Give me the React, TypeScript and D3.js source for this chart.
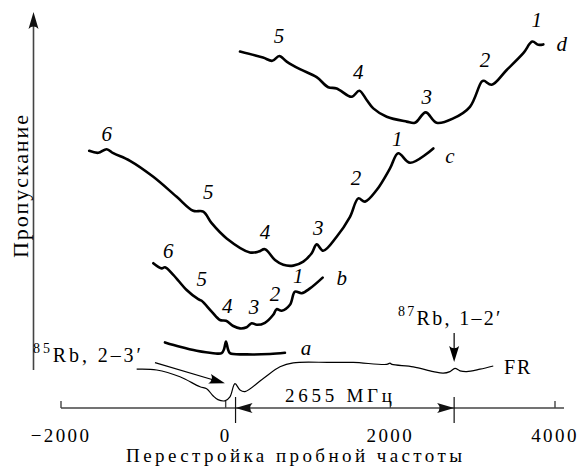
import React, { useRef, useEffect } from "react";
import * as d3 from "d3";

type Pt = [number, number];
type Label = [string, number, number];

// probe detuning (MHz) vs transmission (arb. units)
const curveD: Pt[] = [
  [174, 89.6], [453, 88.1], [566, 87.3], [651, 88.5], [741, 87.1], [902, 85.2],
  [1105, 83.2], [1246, 80.7], [1348, 80.4], [1530, 78.3], [1623, 79.8], [1713, 77.5],
  [1793, 75.4], [1956, 73.3], [2198, 72.1], [2299, 71.8], [2429, 74.4], [2563, 71.8],
  [2764, 72.9], [2967, 75.8], [3109, 82.1], [3137, 82.3], [3231, 81.3], [3413, 85],
  [3615, 89.2], [3724, 92.1], [3797, 91.3], [3858, 91.4]
];
const curveC: Pt[] = [
  [-1657, 64.8], [-1547, 64.3], [-1445, 65.2], [-1365, 64.2], [-1162, 62.3], [-879, 58.3],
  [-595, 53.3], [-394, 49.8], [-272, 49.6], [-170, 46.7], [12, 42.9], [295, 39.4],
  [400, 39.6], [477, 40.2], [599, 37.5], [700, 36.3], [821, 36.1], [943, 37.1],
  [1045, 39.2], [1105, 41.4], [1185, 39.8], [1348, 43.3], [1510, 48.3], [1611, 52.9],
  [1692, 52.1], [1834, 55], [1996, 60.4], [2096, 64.2], [2239, 61.8], [2522, 65.4]
];
const curveB: Pt[] = [
  [-879, 36.7], [-777, 35.4], [-737, 35.7], [-636, 33.8], [-474, 30], [-333, 27.7],
  [-292, 27.3], [-170, 24.6], [-69, 22.5], [4, 22.3], [92, 21], [174, 20.4],
  [255, 20.7], [316, 21.7], [377, 21.3], [477, 21.8], [578, 23.8], [619, 25.2],
  [680, 24.8], [781, 26.3], [842, 29.6], [923, 29.2], [1024, 30.4], [1178, 33.1]
];
const curveA: Pt[] = [
  [-737, 16.9], [-555, 15.8], [-352, 14.8], [-151, 14.2], [-49, 14.2], [-20, 15.2],
  [4, 17.1], [28, 15.2], [52, 14.2], [255, 13.9], [538, 14], [720, 14.3]
];
const curveFR: Pt[] = [
  [-1081, 10.2], [-838, 10], [-555, 8.3], [-312, 5.8], [-231, 5.3], [-151, 3.5],
  [-94, 2.6], [-9, 2.3], [52, 3.3], [113, 6.6], [174, 5], [234, 4.6],
  [457, 7.9], [660, 10.8], [821, 11.8], [1267, 11.9], [1550, 11.9], [1956, 11.4],
  [1996, 11.7], [2020, 11.4], [2279, 10.8], [2522, 9.6], [2643, 9.2], [2724, 9.6],
  [2785, 10.4], [2846, 9.8], [2927, 9.6], [3089, 10.2], [3250, 11]
];

// peak numbers and curve names: text, detuning, level
const labelsD: Label[] = [["5", 647, 91.8], ["4", 1611, 82.8], ["3", 2441, 76.5], ["2", 3149, 85.8], ["1", 3777, 95.8], ["d", 4081, 89.8]];
const labelsC: Label[] = [["6", -1445, 67.3], ["5", -211, 52.8], ["4", 477, 42.8], ["3", 1125, 43.8], ["2", 1583, 56.3], ["1", 2084, 66], ["c", 2724, 61.8]];
const labelsB: Label[] = [["6", -697, 38], ["5", -292, 31], ["4", 19, 24.3], ["3", 344, 24], ["2", 599, 27.3], ["1", 882, 31.7], ["b", 1409, 31.3]];
const labelsA: Label[] = [["a", 975, 13.8]];

const xTicks = [-2000, 0, 2000, 4000];
const xTickLabels = ["\u22122000", "0", "2000", "4000"];
const lines = [120, 2775]; // 85Rb 2-3' and 87Rb 1-2' positions
const gapLabel = "2655 МГц";
const xTitle = "Перестройка пробной частоты";
const yTitle = "Пропускание";
const frLabel = "FR";

const W = 579;
const H = 471;
const FONT = "Liberation Serif, DejaVu Serif, Times New Roman, serif";

export default function App() {
  const svgRef = useRef<SVGSVGElement>(null);

  useEffect(() => {
    if (!svgRef.current) return;
    const svg = d3.select(svgRef.current);
    svg.selectAll("*").remove();

    const x = d3.scaleLinear().domain([-2000, 4000]).range([61, 555]);
    const y = d3.scaleLinear().domain([0, 100]).range([410, 10]);
    const axisY = 408;
    const yAxisX = 33.5;

    const line = d3.line<Pt>()
      .x(d => x(d[0]))
      .y(d => y(d[1]))
      .curve(d3.curveCatmullRom.alpha(0.5));

    // arrow head, tip at (tx,ty), pointing along ang
    const head = (tx: number, ty: number, ang: number, len = 15, w = 4.8) => {
      const c = Math.cos(ang), s = Math.sin(ang);
      const bx = tx - c * len, by = ty - s * len;
      const p1 = [bx - s * w, by + c * w];
      const p2 = [bx + s * w, by - c * w];
      const m = [tx - c * len * 0.72, ty - s * len * 0.72];
      return `M${tx},${ty}L${p1[0]},${p1[1]}Q${m[0]},${m[1]} ${p2[0]},${p2[1]}Z`;
    };

    // y axis
    svg.append("line")
      .attr("x1", yAxisX).attr("x2", yAxisX)
      .attr("y1", 370).attr("y2", 24)
      .attr("stroke", "#444").attr("stroke-width", 1.6);
    svg.append("path").attr("d", head(yAxisX, 12, -Math.PI / 2, 17, 5)).attr("fill", "#111");

    svg.append("text")
      .attr("transform", `translate(28,186.5) rotate(-90)`)
      .attr("text-anchor", "middle")
      .style("font-family", FONT)
      .attr("font-size", 22)
      .attr("textLength", 143)
      .attr("lengthAdjust", "spacing")
      .text(yTitle);

    // x axis
    svg.append("line")
      .attr("x1", 61).attr("x2", 564)
      .attr("y1", axisY).attr("y2", axisY)
      .attr("stroke", "#444").attr("stroke-width", 1.6);

    svg.selectAll(".tick")
      .data(xTicks)
      .enter()
      .append("line")
      .attr("x1", d => x(d)).attr("x2", d => x(d))
      .attr("y1", axisY).attr("y2", axisY - 7)
      .attr("stroke", "#444").attr("stroke-width", 1.4);

    svg.selectAll(".ticklabel")
      .data(xTicks)
      .enter()
      .append("text")
      .attr("x", d => x(d))
      .attr("y", 441.7)
      .attr("text-anchor", "middle")
      .style("font-family", FONT)
      .attr("font-size", 19)
      .attr("letter-spacing", 2.4)
      .text((d, i) => xTickLabels[i]);

    svg.append("text")
      .attr("x", 126).attr("y", 462)
      .style("font-family", FONT)
      .attr("font-size", 19)
      .attr("textLength", 336)
      .attr("lengthAdjust", "spacing")
      .text(xTitle);

    // splitting markers and arrows
    svg.selectAll(".marker")
      .data(lines)
      .enter()
      .append("line")
      .attr("x1", d => x(d)).attr("x2", d => x(d))
      .attr("y1", 397).attr("y2", 423)
      .attr("stroke", "#111").attr("stroke-width", 1.2);
    svg.append("path").attr("d", head(x(lines[0]), axisY, Math.PI, 17, 5)).attr("fill", "#111");
    svg.append("path").attr("d", head(x(lines[1]), axisY, 0, 17, 5)).attr("fill", "#111");
    svg.append("text")
      .attr("x", 285).attr("y", 401.7)
      .style("font-family", FONT)
      .attr("font-size", 19)
      .attr("textLength", 107)
      .attr("lengthAdjust", "spacing")
      .text(gapLabel);

    // curves
    [curveA, curveB, curveC, curveD].forEach(c => {
      svg.append("path")
        .attr("d", line(c) || "")
        .attr("fill", "none")
        .attr("stroke", "#000")
        .attr("stroke-width", 2.6)
        .attr("stroke-linejoin", "round")
        .attr("stroke-linecap", "round");
    });
    svg.append("path")
      .attr("d", line(curveFR) || "")
      .attr("fill", "none")
      .attr("stroke", "#000")
      .attr("stroke-width", 1.2);

    // peak labels
    [...labelsA, ...labelsB, ...labelsC, ...labelsD].forEach(([t, f, v]) => {
      svg.append("text")
        .attr("x", x(f)).attr("y", y(v))
        .attr("text-anchor", "middle")
        .style("font-family", FONT)
        .attr("font-style", "italic")
        .attr("font-size", 21)
        .text(t);
    });

    svg.append("text")
      .attr("x", 504).attr("y", 374)
      .style("font-family", FONT)
      .attr("font-size", 20)
      .attr("letter-spacing", 2)
      .text(frLabel);

    // 85Rb annotation
    const rb85 = svg.append("text")
      .attr("x", 33).attr("y", 361.7)
      .style("font-family", FONT)
      .attr("letter-spacing", 2.9);
    rb85.append("tspan").attr("font-size", 14).attr("dy", -9).text("85");
    rb85.append("tspan").attr("font-size", 20).attr("dy", 9).text("Rb, 2–3′");
    const a0 = [155, 362.7], a1 = [x(-9), 383.3];
    const ang85 = Math.atan2(a1[1] - a0[1], a1[0] - a0[0]);
    svg.append("line")
      .attr("x1", a0[0]).attr("y1", a0[1])
      .attr("x2", a1[0] - Math.cos(ang85) * 10).attr("y2", a1[1] - Math.sin(ang85) * 10)
      .attr("stroke", "#000").attr("stroke-width", 1.2);
    svg.append("path").attr("d", head(a1[0], a1[1], ang85, 16, 5)).attr("fill", "#000");

    // 87Rb annotation
    const rb87 = svg.append("text")
      .attr("x", 398).attr("y", 325)
      .style("font-family", FONT)
      .attr("letter-spacing", 2.3);
    rb87.append("tspan").attr("font-size", 14).attr("dy", -9).text("87");
    rb87.append("tspan").attr("font-size", 20).attr("dy", 9).text("Rb, 1–2′");
    const bx = x(lines[1]);
    svg.append("line")
      .attr("x1", bx).attr("x2", bx)
      .attr("y1", 333).attr("y2", 352)
      .attr("stroke", "#000").attr("stroke-width", 1.2);
    svg.append("path").attr("d", head(bx, 362, Math.PI / 2, 16, 5)).attr("fill", "#000");
  }, []);

  return (
    <svg
      ref={svgRef}
      width={W}
      height={H}
      style={{ position: "absolute", left: 0, top: 0, background: "#fff" }}
    />
  );
}
